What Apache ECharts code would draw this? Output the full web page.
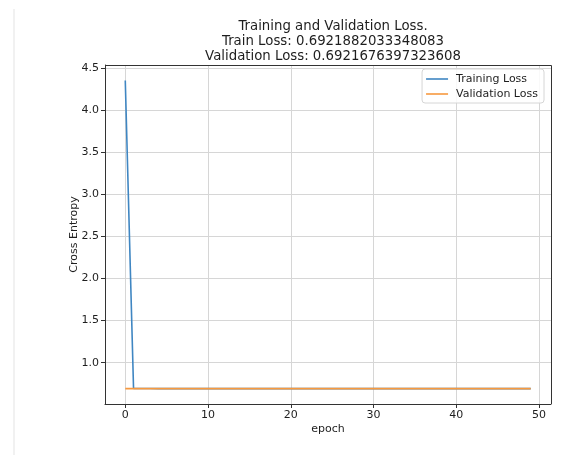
<!DOCTYPE html>
<html>
<head>
<meta charset="utf-8">
<script src="https://cdn.jsdelivr.net/npm/echarts@6/dist/echarts.min.js"></script>
<style>
  html, body { margin: 0; padding: 0; background: #ffffff; }
  #chart { width: 579px; height: 461px; }
</style>
</head>
<body>
<div id="chart"></div>
<script>
// Loss history per epoch (0..49)
const epochs = [
  0, 1, 2, 3, 4, 5, 6, 7, 8, 9,
  10, 11, 12, 13, 14, 15, 16, 17, 18, 19,
  20, 21, 22, 23, 24, 25, 26, 27, 28, 29,
  30, 31, 32, 33, 34, 35, 36, 37, 38, 39,
  40, 41, 42, 43, 44, 45, 46, 47, 48, 49
];
const trainLoss = [
  4.3500, 0.6928, 0.6925, 0.6924, 0.6923, 0.6923, 0.6922, 0.6922, 0.6922, 0.6922,
  0.6922, 0.6922, 0.6922, 0.6922, 0.6922, 0.6922, 0.6922, 0.6922, 0.6922, 0.6922,
  0.6922, 0.6922, 0.6922, 0.6922, 0.6922, 0.6922, 0.6922, 0.6922, 0.6922, 0.6922,
  0.6922, 0.6922, 0.6922, 0.6922, 0.6922, 0.6922, 0.6922, 0.6922, 0.6922, 0.6922,
  0.6922, 0.6922, 0.6922, 0.6922, 0.6922, 0.6922, 0.6922, 0.6922, 0.6922, 0.6921882033348083
];
const valLoss = [
  0.6922, 0.6922, 0.6922, 0.6922, 0.6922, 0.6922, 0.6922, 0.6922, 0.6922, 0.6922,
  0.6922, 0.6922, 0.6922, 0.6922, 0.6922, 0.6922, 0.6922, 0.6922, 0.6922, 0.6922,
  0.6922, 0.6922, 0.6922, 0.6922, 0.6922, 0.6922, 0.6922, 0.6922, 0.6922, 0.6922,
  0.6922, 0.6922, 0.6922, 0.6922, 0.6922, 0.6922, 0.6922, 0.6922, 0.6922, 0.6922,
  0.6922, 0.6922, 0.6922, 0.6922, 0.6922, 0.6922, 0.6922, 0.6922, 0.6922, 0.6921676397323608
];
const xTicks = [0, 10, 20, 30, 40, 50];
const yTicks = [1.0, 1.5, 2.0, 2.5, 3.0, 3.5, 4.0, 4.5];
const seriesNames = ['Training Loss', 'Validation Loss'];
const titleLines = [
  'Training and Validation Loss.',
  'Train Loss: 0.6921882033348083',
  'Validation Loss: 0.6921676397323608'
];

const FONT = 'DejaVu Sans';
const INK = '#1e1e1e';
const BLUE = '#3f86c2';
const ORANGE = '#f7993f';

// axis limits padded by 5% of the data span on each side
const xMin = epochs[0], xMax = epochs[epochs.length - 1];
const allY = trainLoss.concat(valLoss);
const yLo = Math.min.apply(null, allY), yHi = Math.max.apply(null, allY);
const xPad = (xMax - xMin) * 0.05, yPad = (yHi - yLo) * 0.05;

const pairs = (ys) => epochs.map((x, i) => [x, ys[i]]);

const chart = echarts.init(document.getElementById('chart'), null, { renderer: 'canvas' });
chart.setOption({
  backgroundColor: '#ffffff',
  animation: false,
  title: {
    text: titleLines.join('\n'),
    left: 328,
    top: 14,
    textAlign: 'center',
    textStyle: { fontFamily: FONT, fontSize: 13.3, fontWeight: 'normal', color: INK, lineHeight: 15 }
  },
  legend: {
    data: seriesNames,
    orient: 'vertical',
    right: 35,
    top: 69,
    icon: 'rect',
    itemWidth: 22,
    itemHeight: 1.6,
    itemGap: 3,
    padding: [4, 6, 3, 4],
    backgroundColor: 'rgba(255,255,255,0.85)',
    borderColor: '#d6d6d6',
    borderWidth: 1,
    borderRadius: 3,
    textStyle: { fontFamily: FONT, fontSize: 11, color: INK, lineHeight: 12, padding: [0, 0, 0, 3] }
  },
  grid: { left: 105, right: 28, top: 65, bottom: 57, containLabel: false, show: false },
  xAxis: {
    type: 'value',
    min: xMin - xPad,
    max: xMax + xPad,
    name: 'epoch',
    nameLocation: 'middle',
    nameGap: 20,
    nameMoveOverlap: false,
    nameTextStyle: { fontFamily: FONT, fontSize: 11, color: INK },
    axisLine: { show: true, onZero: false, lineStyle: { color: '#333', width: 1 } },
    axisTick: { show: true, inside: false, length: 4, customValues: xTicks, lineStyle: { color: '#333' } },
    axisLabel: { customValues: xTicks, margin: 6, fontFamily: FONT, fontSize: 11, color: INK,
                 formatter: (v) => String(v) },
    splitLine: { show: true, lineStyle: { color: '#d6d6d6', width: 1 } }
  },
  yAxis: {
    type: 'value',
    min: yLo - yPad,
    max: yHi + yPad,
    name: 'Cross Entropy',
    nameLocation: 'middle',
    nameGap: 25,
    nameMoveOverlap: false,
    nameTextStyle: { fontFamily: FONT, fontSize: 11, color: INK },
    axisLine: { show: true, onZero: false, lineStyle: { color: '#333', width: 1 } },
    axisTick: { show: true, inside: false, length: 4, customValues: yTicks, lineStyle: { color: '#333' } },
    axisLabel: { customValues: yTicks, margin: 6, fontFamily: FONT, fontSize: 11, color: INK,
                 formatter: (v) => v.toFixed(1) },
    splitLine: { show: true, lineStyle: { color: '#d6d6d6', width: 1 } }
  },
  series: [
    {
      name: seriesNames[0],
      type: 'line',
      data: pairs(trainLoss),
      showSymbol: false,
      symbol: 'none',
      color: BLUE,
      lineStyle: { width: 1.6, color: BLUE }
    },
    {
      name: seriesNames[1],
      type: 'line',
      data: pairs(valLoss),
      showSymbol: false,
      symbol: 'none',
      color: ORANGE,
      lineStyle: { width: 1.6, color: ORANGE }
    }
  ]
});
// page edge stripe, plus the right and top frame lines of the plot box
const gridRect = chart.getModel().getComponent('grid').coordinateSystem.getRect();
chart.setOption({
  graphic: [{
    type: 'rect',
    shape: { x: 13, y: 9, width: 2, height: 446 },
    style: { fill: '#f1f1f1' },
    silent: true
  }, {
    type: 'polyline',
    shape: { points: [[gridRect.x, gridRect.y + 0.5], [gridRect.x + gridRect.width + 0.5, gridRect.y + 0.5],
                      [gridRect.x + gridRect.width + 0.5, gridRect.y + gridRect.height]] },
    style: { stroke: '#333', lineWidth: 1, fill: null },
    silent: true,
    z: 10
  }]
});
</script>
</body>
</html>
